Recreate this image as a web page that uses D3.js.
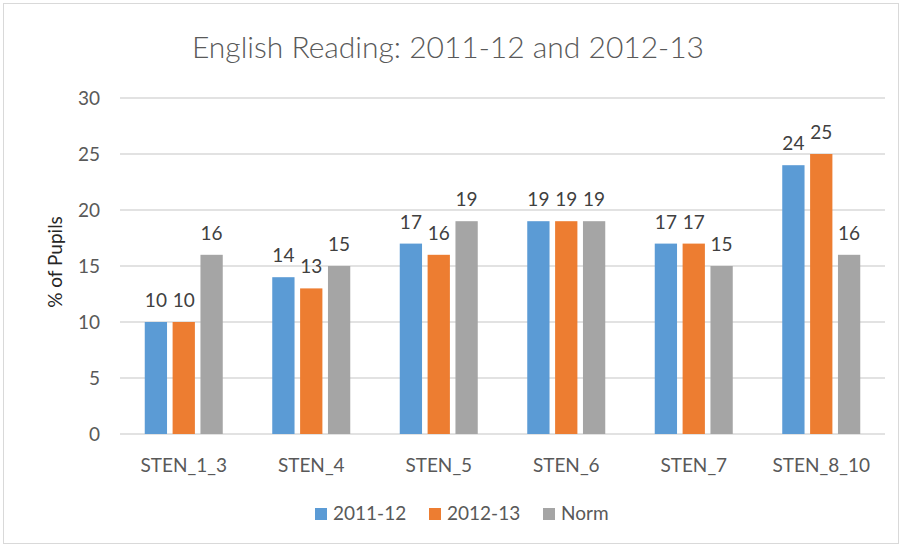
<!DOCTYPE html>
<html><head><meta charset="utf-8">
<script src="https://cdn.jsdelivr.net/npm/d3@7"></script>
<style>body{margin:0;background:#fff}svg{display:block}</style>
</head><body>
<svg id="c" width="902" height="547"></svg>
<script>
const categories = ["STEN_1_3","STEN_4","STEN_5","STEN_6","STEN_7","STEN_8_10"];
const seriesNames = ["2011-12","2012-13","Norm"];
const values2011 = [10,14,17,19,17,24];
const values2012 = [10,13,16,19,17,25];
const valuesNorm = [16,15,19,19,15,16];
const yTicks = [0,5,10,15,20,25,30];
const colors = ["#5B9BD5","#ED7D31","#A5A5A5"];
const seriesVals = [values2011, values2012, valuesNorm];

const svg = d3.select("#c");
const font = "Lato, 'Open Sans', sans-serif";
const txt = "#595959";
const fs = 19;

svg.append("rect").attr("x",3.5).attr("y",3.5).attr("width",895).attr("height",540)
  .attr("fill","#fff").attr("stroke","#D9D9D9");

const L=120, R=885, T=98, B=434;
const x = d3.scaleBand().domain(categories).range([L,R]);
const y = d3.scaleLinear().domain([0,30]).range([B,T]);
const xs = d3.scaleBand().domain(seriesNames).range([0,78]).paddingInner(0.2);

svg.append("text").attr("x",448).attr("y",58).attr("text-anchor","middle")
  .attr("font-family",font).attr("font-weight",300).attr("font-size",30).attr("fill",txt)
  .text("English Reading: 2011-12 and 2012-13");

const g = svg.append("g");
g.selectAll("line.grid").data(yTicks).join("line").attr("class","grid")
  .attr("x1",L).attr("x2",R).attr("y1",d=>y(d)).attr("y2",d=>y(d))
  .attr("stroke","#D9D9D9").attr("stroke-width",1.3);

g.selectAll("text.yt").data(yTicks).join("text").attr("class","yt")
  .attr("x",100).attr("y",d=>y(d)+7).attr("text-anchor","end")
  .attr("font-family",font).attr("font-size",fs).attr("fill",txt).text(d=>d);

svg.append("text").attr("transform","translate(62,262) rotate(-90)").attr("text-anchor","middle")
  .attr("font-family",font).attr("font-size",fs).attr("fill","#262626").text("% of Pupils");

categories.forEach((c,i)=>{
  const cx = x(c)+x.bandwidth()/2 - 39;
  seriesNames.forEach((s,j)=>{
    const v = seriesVals[j][i];
    g.append("rect").attr("x",cx+xs(s)).attr("y",y(v)).attr("width",xs.bandwidth())
      .attr("height",y(0)-y(v)).attr("fill",colors[j]);
    g.append("text").attr("x",cx+xs(s)+xs.bandwidth()/2).attr("y",y(v)-15)
      .attr("text-anchor","middle").attr("font-family",font).attr("font-size",fs)
      .attr("fill","#404040").text(v);
  });
  g.append("text").attr("x",x(c)+x.bandwidth()/2).attr("y",472).attr("text-anchor","middle")
    .attr("font-family",font).attr("font-size",fs).attr("fill",txt).text(c);
});

const legX = [315,429,543];
seriesNames.forEach((s,j)=>{
  svg.append("rect").attr("x",legX[j]).attr("y",508).attr("width",12).attr("height",12).attr("fill",colors[j]);
  svg.append("text").attr("x",legX[j]+18).attr("y",520).attr("font-family",font).attr("font-size",fs)
    .attr("fill",txt).text(s);
});
</script>
</body></html>
